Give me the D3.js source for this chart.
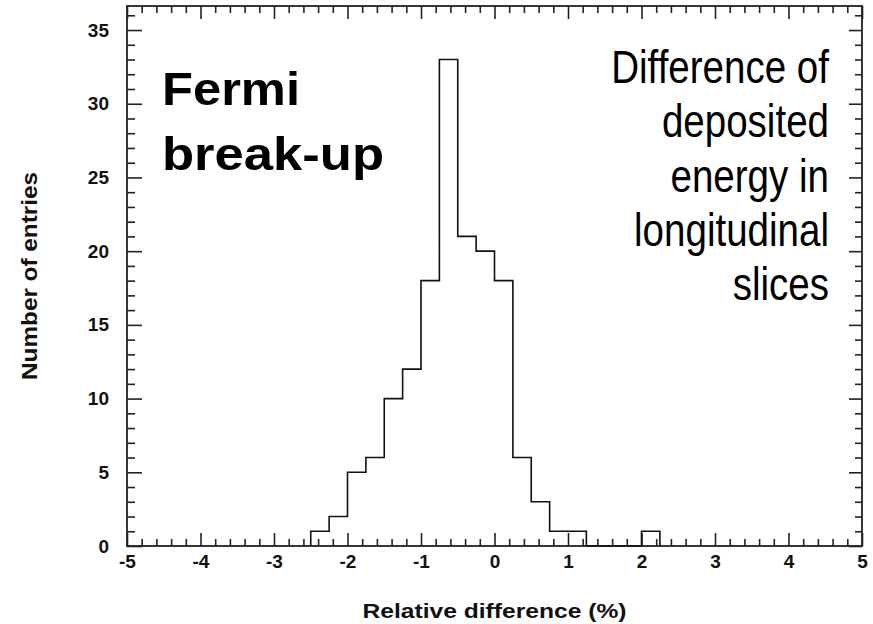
<!DOCTYPE html>
<html>
<head>
<meta charset="utf-8">
<script src="https://cdn.jsdelivr.net/npm/d3@7"></script>
<style>
  body { margin: 0; background: #fff; }
  svg { display: block; }
</style>
</head>
<body>
<svg id="chart"></svg>
<script>
// histogram bins: lower edge of each 0.25-wide bin and its count
const binLow = [-2.5, -2.25, -2.0, -1.75, -1.5, -1.25, -1.0, -0.75, -0.5, -0.25,
                0.0, 0.25, 0.5, 0.75, 1.0, 1.25, 1.5, 1.75, 2.0];
const binCount = [1, 2, 5, 6, 10, 12, 18, 33, 21, 20,
                  18, 6, 3, 1, 1, 0, 0, 0, 1];
const binWidth = 0.25;

const xMajor = [-5, -4, -3, -2, -1, 0, 1, 2, 3, 4, 5];
const yMajor = [0, 5, 10, 15, 20, 25, 30, 35];
const xLimits = [-5, 5];
const yLimits = [0, 36.63];

const titleLines = ["Fermi", "break-up"];
const noteLines = ["Difference of", "deposited", "energy in", "longitudinal", "slices"];
const xLabel = "Relative difference (%)";
const yLabel = "Number of entries";

const W = 873, H = 624;
const margin = {top: 6, right: 11, bottom: 78, left: 127};
const width = W - margin.left - margin.right;
const height = H - margin.top - margin.bottom;
const boldFont = "'Liberation Sans', Arial, sans-serif";

const svgRoot = d3.select("#chart").attr("width", W).attr("height", H);
const svg = svgRoot.append("g")
    .attr("transform", "translate(" + margin.left + "," + margin.top + ")");

const x = d3.scaleLinear().domain(xLimits).range([0, width]);
const y = d3.scaleLinear().domain(yLimits).range([height, 0]);

// minor tick positions come from the scales' own tick generators
const xMinor = x.ticks(50).filter(v => !xMajor.includes(v));
const yMinor = y.ticks(36).filter(v => !yMajor.includes(v) && v <= 36);

// plain hyphen for negatives, as in the original
const fmt = d => String(d);

const styleAxis = g => {
    g.select(".domain").remove();
    g.selectAll("line").attr("stroke", "#222").attr("stroke-width", 1.6);
    g.selectAll("text")
        .attr("font-family", boldFont)
        .attr("font-weight", "bold")
        .attr("font-size", 19)
        .attr("fill", "#111");
};

// bottom axis (ticks point into the frame)
svg.append("g").attr("transform", "translate(0," + height + ")")
    .call(d3.axisBottom(x).tickValues(xMajor).tickSizeInner(-13).tickSizeOuter(0)
        .tickPadding(9).tickFormat(fmt))
    .call(styleAxis);
svg.append("g").attr("transform", "translate(0," + height + ")")
    .call(d3.axisBottom(x).tickValues(xMinor).tickSizeInner(-7).tickSizeOuter(0).tickFormat(""))
    .call(styleAxis);
// top axis
svg.append("g")
    .call(d3.axisTop(x).tickValues(xMajor).tickSizeInner(-13).tickSizeOuter(0).tickFormat(""))
    .call(styleAxis);
svg.append("g")
    .call(d3.axisTop(x).tickValues(xMinor).tickSizeInner(-7).tickSizeOuter(0).tickFormat(""))
    .call(styleAxis);
// left axis
svg.append("g")
    .call(d3.axisLeft(y).tickValues(yMajor).tickSizeInner(-15).tickSizeOuter(0)
        .tickPadding(18).tickFormat(fmt))
    .call(styleAxis);
svg.append("g")
    .call(d3.axisLeft(y).tickValues(yMinor).tickSizeInner(-8).tickSizeOuter(0).tickFormat(""))
    .call(styleAxis);
// right axis
svg.append("g").attr("transform", "translate(" + width + ",0)")
    .call(d3.axisRight(y).tickValues(yMajor).tickSizeInner(-13).tickSizeOuter(0).tickFormat(""))
    .call(styleAxis);
svg.append("g").attr("transform", "translate(" + width + ",0)")
    .call(d3.axisRight(y).tickValues(yMinor).tickSizeInner(-7).tickSizeOuter(0).tickFormat(""))
    .call(styleAxis);

// frame
svg.append("rect")
    .attr("x", 0).attr("y", 0)
    .attr("width", width).attr("height", height)
    .attr("fill", "none")
    .attr("stroke", "#222")
    .attr("stroke-width", 1.8);

// histogram outline
const pts = [{x: binLow[0], y: 0}];
binLow.forEach((lo, i) => pts.push({x: lo, y: binCount[i]}));
const last = binLow.length - 1;
pts.push({x: binLow[last] + binWidth, y: binCount[last]});
pts.push({x: binLow[last] + binWidth, y: 0});

svg.append("path")
    .datum(pts)
    .attr("fill", "none")
    .attr("stroke", "#111")
    .attr("stroke-width", 1.6)
    .attr("d", d3.line()
        .x(d => x(d.x))
        .y(d => y(d.y))
        .curve(d3.curveStepAfter));

// axis titles
svgRoot.append("text")
    .attr("x", margin.left + width / 2)
    .attr("y", 618)
    .attr("text-anchor", "middle")
    .attr("font-family", boldFont)
    .attr("font-weight", "bold")
    .attr("font-size", 21)
    .attr("textLength", 264)
    .attr("lengthAdjust", "spacingAndGlyphs")
    .attr("fill", "#111")
    .text(xLabel);

svgRoot.append("text")
    .attr("transform", "translate(37," + (margin.top + height / 2) + ") rotate(-90)")
    .attr("text-anchor", "middle")
    .attr("font-family", boldFont)
    .attr("font-weight", "bold")
    .attr("font-size", 22)
    .attr("textLength", 208)
    .attr("lengthAdjust", "spacingAndGlyphs")
    .attr("fill", "#111")
    .text(yLabel);

// big bold annotation
const titleWidths = [138, 222];
svgRoot.append("g")
    .selectAll("text")
    .data(titleLines)
    .join("text")
    .attr("x", 162)
    .attr("y", (d, i) => 105 + i * 65)
    .attr("font-family", boldFont)
    .attr("font-weight", "bold")
    .attr("font-size", 46)
    .attr("textLength", (d, i) => titleWidths[i])
    .attr("lengthAdjust", "spacingAndGlyphs")
    .attr("fill", "#000")
    .text(d => d);

// narrow annotation on the right: no narrow face installed, so squeeze horizontally
svgRoot.append("g")
    .attr("transform", "translate(829,0) scale(0.82,1)")
    .selectAll("text")
    .data(noteLines)
    .join("text")
    .attr("x", 0)
    .attr("y", (d, i) => 83 + i * 54.3)
    .attr("text-anchor", "end")
    .attr("font-family", "'Liberation Sans', Arial, sans-serif")
    .attr("font-size", 47)
    .attr("fill", "#000")
    .text(d => d);
</script>
</body>
</html>
